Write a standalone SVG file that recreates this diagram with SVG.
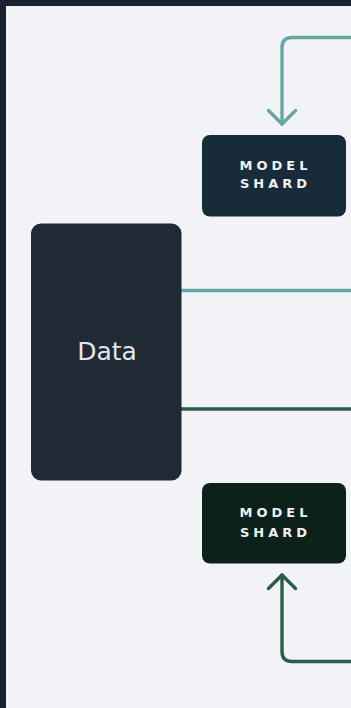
<svg xmlns="http://www.w3.org/2000/svg" width="351" height="708" viewBox="0 0 351 708">
<defs>
<style>
.shard-text{font-family:"DejaVu Sans","Liberation Sans",sans-serif;font-size:13px;font-weight:bold;fill:#eef1f4;letter-spacing:4px;text-anchor:middle}
.data-text{font-family:"DejaVu Sans","Liberation Sans",sans-serif;font-size:25px;fill:#e2e6ec;text-anchor:middle}
.conn{fill:none;stroke-width:3.4;stroke-linecap:round;stroke-linejoin:round}
.teal{stroke:#66a6a6}
.green{stroke:#2b5c4c}
</style>
</defs>
<rect x="0" y="0" width="351" height="708" fill="#1a2130"/>
<rect x="6" y="6" width="345" height="702" fill="#f2f3f7"/>
<g id="connectors">
<path class="conn teal" d="M351 37.5 H292 Q282 37.5 282 47.5 V124"/>
<path class="conn teal" d="M268.5 110.5 L282 124 L295.5 110.5"/>
<line class="conn teal" x1="181" y1="290.5" x2="352" y2="290.5" style="stroke-linecap:butt"/>
<line class="conn green" x1="181" y1="409" x2="352" y2="409" style="stroke-linecap:butt"/>
<path class="conn green" d="M351 661.5 H292 Q282 661.5 282 651.5 V575"/>
<path class="conn green" d="M268.5 588.5 L282 575 L295.5 588.5"/>
</g>
<g id="data">
<rect x="31" y="223.5" width="150.5" height="257" rx="10" fill="#1f2a34"/>
<text class="data-text" x="107" y="359.5">Data</text>
</g>
<g id="model-shard-top">
<rect x="202" y="135" width="144" height="81.5" rx="8" fill="#172c38"/>
<text class="shard-text" x="275.5" y="169.5">MODEL</text>
<text class="shard-text" x="275.5" y="187.5">SHARD</text>
</g>
<g id="model-shard-bottom">
<rect x="202" y="483" width="144" height="80.5" rx="8" fill="#0c2119"/>
<text class="shard-text" x="275.5" y="517">MODEL</text>
<text class="shard-text" x="275.5" y="537">SHARD</text>
</g>
</svg>
